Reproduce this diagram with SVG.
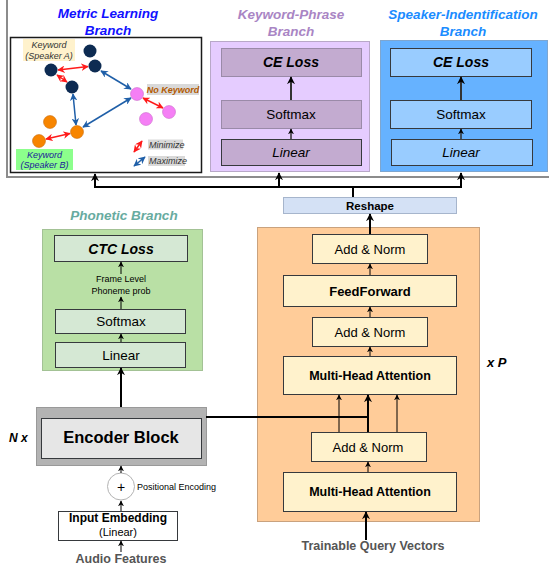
<svg xmlns="http://www.w3.org/2000/svg" width="549" height="572" viewBox="0 0 549 572">
<defs>
<marker id="ah" viewBox="0 0 10 10" refX="9" refY="5" markerWidth="4" markerHeight="4" orient="auto-start-reverse" markerUnits="strokeWidth"><path d="M0,0 L10,5 L0,10 L3,5 z" fill="#000"/></marker>
<marker id="ahs" viewBox="0 0 10 10" refX="9" refY="5" markerWidth="6" markerHeight="6" orient="auto-start-reverse" markerUnits="strokeWidth"><path d="M0,0 L10,5 L0,10 L3,5 z" fill="#000"/></marker>
<marker id="ar" viewBox="0 0 10 10" refX="9" refY="5" markerWidth="5" markerHeight="5" orient="auto-start-reverse" markerUnits="strokeWidth"><path d="M0,0 L10,5 L0,10 L3,5 z" fill="#ff1a1a"/></marker>
<marker id="ab" viewBox="0 0 10 10" refX="9" refY="5" markerWidth="5" markerHeight="5" orient="auto-start-reverse" markerUnits="strokeWidth"><path d="M0,0 L10,5 L0,10 L3,5 z" fill="#1f5fa8"/></marker>
</defs>
<style>
text{font-family:"Liberation Sans",Arial,Helvetica,sans-serif;}
.c{text-anchor:middle;}
.b{font-weight:bold;}
.i{font-style:italic;}
.title{font-weight:bold;font-style:italic;font-size:13.5px;text-anchor:middle;}
.inner{stroke:#36393d;stroke-width:1;}
.conn{stroke:#000;stroke-width:2;fill:none;}
.thin{stroke:#000;stroke-width:1;fill:none;}
.red{stroke:#ff1a1a;stroke-width:1.5;fill:none;}
.blue{stroke:#1f5fa8;stroke-width:1.5;fill:none;}
.lbl{font-size:9px;font-style:italic;text-anchor:middle;}
</style>
<rect width="549" height="572" fill="#fff"/>

<!-- outer frame -->
<path d="M7,0 L7,177 L549,177" fill="none" stroke="#8c8c8c" stroke-width="2"/>

<!-- Metric learning branch -->
<g id="metric-branch">
<text class="title" x="108" y="18" fill="#1010ff">Metric Learning</text>
<text class="title" x="108" y="35" fill="#1010ff">Branch</text>
<rect x="10.5" y="37.5" width="191" height="135" fill="#fff" stroke="#1a1a1a" stroke-width="1.5"/>
<rect x="23" y="39" width="52" height="22" fill="#fff2cc"/>
<text class="lbl" x="49" y="48" fill="#333">Keyword</text>
<text class="lbl" x="49" y="59" fill="#333">(Speaker A)</text>
<rect x="147" y="84" width="52" height="11" fill="#d9d9d9"/>
<text class="lbl b" x="173" y="93" fill="#b35900">No Keyword</text>
<rect x="16" y="149" width="57" height="21" fill="#8cff8c"/>
<text class="lbl" x="44.5" y="158" fill="#1a1a99">Keyword</text>
<text class="lbl" x="44.5" y="168" fill="#1a1a99">(Speaker B)</text>
<g id="metric-arrows">
<line class="red" x1="58" y1="70" x2="88" y2="66.5" marker-start="url(#ar)" marker-end="url(#ar)"/>
<line class="red" x1="57" y1="75" x2="67" y2="82" marker-start="url(#ar)" marker-end="url(#ar)"/>
<line class="red" x1="46" y1="139" x2="70" y2="133.5" marker-start="url(#ar)" marker-end="url(#ar)"/>
<line class="red" x1="143" y1="98" x2="163" y2="108" marker-start="url(#ar)" marker-end="url(#ar)"/>
<line class="blue" x1="101" y1="71" x2="131" y2="89" marker-start="url(#ab)" marker-end="url(#ab)"/>
<line class="blue" x1="73" y1="94" x2="76" y2="125" marker-start="url(#ab)" marker-end="url(#ab)"/>
<line class="blue" x1="83" y1="127" x2="131" y2="98" marker-start="url(#ab)" marker-end="url(#ab)"/>
</g>
<g fill="#0d2b52">
<circle cx="90" cy="51" r="6.5"/>
<circle cx="95" cy="66" r="6.5"/>
<circle cx="51" cy="70" r="6.5"/>
<circle cx="72" cy="87" r="6.5"/>
</g>
<g fill="#f57ff5" stroke="#c060c0" stroke-width="0.5">
<circle cx="137" cy="94" r="6.5"/>
<circle cx="169" cy="112" r="6.5"/>
<circle cx="146" cy="119" r="6.5"/>
</g>
<g fill="#f78500" stroke="#c06000" stroke-width="0.5">
<circle cx="50" cy="122" r="6.5"/>
<circle cx="77" cy="132" r="6.5"/>
<circle cx="39" cy="141" r="6.5"/>
</g>
<line class="red" x1="134" y1="152" x2="142" y2="141" marker-start="url(#ar)" marker-end="url(#ar)"/>
<line class="blue" x1="134" y1="166" x2="145" y2="157" marker-start="url(#ab)" marker-end="url(#ab)"/>
<rect x="148" y="139.5" width="35" height="10" fill="#d9d9d9"/>
<text x="149" y="147.5" font-size="9" font-style="italic" fill="#333">Minimize</text>
<rect x="148" y="156" width="37" height="10" fill="#d9d9d9"/>
<text x="149" y="164" font-size="9" font-style="italic" fill="#333">Maximize</text>
</g>

<!-- Keyword-phrase branch -->
<g id="keyword-branch">
<text class="title" x="291" y="19" fill="#a985c4">Keyword-Phrase</text>
<text class="title" x="291" y="36" fill="#a985c4">Branch</text>
<rect x="210.5" y="41.5" width="159" height="130" fill="#e5ccff" stroke="#b8a8c8"/>
<rect x="221.5" y="48.5" width="140" height="28" fill="#c3abd0" stroke="#9a8aa8"/>
<text class="c b i" x="291" y="67" font-size="14">CE Loss</text>
<rect x="221.5" y="100.5" width="140" height="28" fill="#c3abd0" stroke="#9a8aa8"/>
<text class="c" x="291" y="119" font-size="13.5">Softmax</text>
<rect x="221.5" y="139.5" width="140" height="26" fill="#c3abd0" class="inner"/>
<text class="c i" x="291" y="157" font-size="13.5">Linear</text>
</g>

<!-- Speaker branch -->
<g id="speaker-branch">
<text class="title" x="463" y="19" fill="#1a8cff">Speaker-Indentification</text>
<text class="title" x="463" y="36" fill="#1a8cff">Branch</text>
<rect x="380.5" y="40.5" width="167" height="131" fill="#66b2ff" stroke="#7ea6d0"/>
<rect x="390.5" y="48.5" width="141" height="28" fill="#99ccff" class="inner"/>
<text class="c b i" x="461" y="67" font-size="14">CE Loss</text>
<rect x="390.5" y="100.5" width="141" height="28" fill="#99ccff" class="inner"/>
<text class="c" x="461" y="119" font-size="13.5">Softmax</text>
<rect x="391.5" y="139.5" width="141" height="26" fill="#99ccff" class="inner"/>
<text class="c i" x="461" y="157" font-size="13.5">Linear</text>
</g>

<!-- Reshape -->
<g id="reshape">
<rect x="283.5" y="197.5" width="173" height="16" fill="#d4e1f5" stroke="#a6b5cc"/>
<text class="c b" x="370" y="209.5" font-size="11.5">Reshape</text>
</g>

<!-- Phonetic branch -->
<g id="phonetic-branch">
<text class="title" x="124" y="220" fill="#67ab9f">Phonetic Branch</text>
<rect x="42.5" y="229.5" width="160" height="141" fill="#b9e0a5" stroke="#a3c295"/>
<rect x="54.5" y="235.5" width="133" height="26" fill="#d5e8d4" class="inner"/>
<text class="c b i" x="121" y="253.5" font-size="14">CTC Loss</text>
<text class="c" x="121" y="282" font-size="9">Frame Level</text>
<text class="c" x="121" y="294" font-size="9">Phoneme prob</text>
<rect x="55.5" y="309.5" width="130" height="24" fill="#d5e8d4" class="inner"/>
<text class="c" x="121" y="326" font-size="13.5">Softmax</text>
<rect x="55.5" y="342.5" width="130" height="25" fill="#d5e8d4" class="inner"/>
<text class="c" x="121" y="359.5" font-size="13.5">Linear</text>
</g>

<!-- Transformer decoder -->
<g id="decoder">
<rect x="257.5" y="227.5" width="222" height="294" fill="#ffcc99" stroke="#c9a27e"/>
<text x="487" y="367" font-size="13" font-weight="bold" font-style="italic">x P</text>
</g>
<g id="addnorm-top">
<rect x="312.5" y="234.5" width="115" height="29" fill="#fff2cc" class="inner"/>
<text class="c" x="370" y="253.5" font-size="13">Add &amp; Norm</text>
</g>
<g id="feedforward">
<rect x="283.5" y="275.5" width="173" height="31" fill="#fff2cc" class="inner"/>
<text class="c b" x="370" y="295.5" font-size="13">FeedForward</text>
</g>
<g id="addnorm-mid">
<rect x="312.5" y="317.5" width="115" height="29" fill="#fff2cc" class="inner"/>
<text class="c" x="370" y="336.5" font-size="13">Add &amp; Norm</text>
</g>
<g id="mha-top">
<rect x="283.5" y="356.5" width="173" height="38" fill="#fff2cc" class="inner"/>
<text class="c b" x="370" y="379.5" font-size="12.5">Multi-Head Attention</text>
</g>
<g id="addnorm-bottom">
<rect x="311.5" y="432.5" width="115" height="29" fill="#fff2cc" class="inner"/>
<text class="c" x="368" y="451.5" font-size="13">Add &amp; Norm</text>
</g>
<g id="mha-bottom">
<rect x="283.5" y="472.5" width="173" height="39" fill="#fff2cc" class="inner"/>
<text class="c b" x="370" y="496" font-size="12.5">Multi-Head Attention</text>
</g>

<!-- Encoder -->
<g id="encoder">
<text x="9" y="442" font-size="12" font-weight="bold" font-style="italic">N x</text>
<rect x="36.5" y="407.5" width="170" height="58" fill="#b3b3b3" stroke="#999"/>
<rect x="41.5" y="418.5" width="160" height="40" fill="#e6e6e6" class="inner"/>
<text class="c b" x="121" y="443" font-size="16.5">Encoder Block</text>
</g>
<g id="positional">
<circle cx="121" cy="486.5" r="13.5" fill="#fff" stroke="#b3b3b3"/>
<text class="c" x="121" y="491.5" font-size="14">+</text>
<text x="137" y="490" font-size="9">Positional Encoding</text>
</g>
<g id="input-embedding">
<rect x="58.5" y="511.5" width="119" height="29" fill="#fff" class="inner"/>
<text class="c b" x="118" y="522" font-size="12">Input Embedding</text>
<text class="c" x="118" y="536" font-size="11">(Linear)</text>
</g>
<text id="audio" class="c b" x="121" y="563" font-size="12.5" fill="#555">Audio Features</text>
<text id="queries" class="c b" x="373" y="549.5" font-size="12.5" fill="#555">Trainable Query Vectors</text>

<!-- connectors -->
<g id="connectors">
<path class="conn" d="M95,187 L461,187"/>
<line class="conn" x1="95" y1="188" x2="95" y2="174" marker-end="url(#ah)"/>
<line class="conn" x1="279" y1="188" x2="279" y2="173" marker-end="url(#ah)"/>
<line class="conn" x1="461" y1="188" x2="461" y2="173" marker-end="url(#ah)"/>
<line class="conn" x1="353" y1="186" x2="353" y2="197"/>
<line x1="291" y1="100" x2="291" y2="77" stroke="#333" stroke-width="2" marker-end="url(#ah)"/>
<line x1="291" y1="139" x2="291" y2="129" stroke="#333" stroke-width="1.5" marker-end="url(#ah)"/>
<line x1="461" y1="100" x2="461" y2="77" stroke="#333" stroke-width="2" marker-end="url(#ah)"/>
<line x1="461" y1="139" x2="461" y2="129" stroke="#333" stroke-width="1.5" marker-end="url(#ah)"/>
<line class="conn" x1="370" y1="234" x2="370" y2="214" marker-end="url(#ah)"/>
<line class="thin" x1="370" y1="275" x2="370" y2="264" marker-end="url(#ahs)"/>
<line class="thin" x1="370" y1="317" x2="370" y2="307" marker-end="url(#ahs)"/>
<line class="thin" x1="370" y1="356" x2="370" y2="347" marker-end="url(#ahs)"/>
<line class="thin" x1="339" y1="432" x2="339" y2="395" marker-end="url(#ahs)"/>
<line class="conn" x1="368" y1="432" x2="368" y2="395" marker-end="url(#ah)"/>
<line class="thin" x1="397" y1="432" x2="397" y2="395" marker-end="url(#ahs)"/>
<path class="conn" d="M206,417 L368,417"/>
<line class="thin" x1="368" y1="472" x2="368" y2="462" marker-end="url(#ahs)"/>
<line class="conn" x1="366" y1="540" x2="366" y2="512" marker-end="url(#ah)"/>
<line class="thin" x1="121" y1="274" x2="121" y2="262" marker-end="url(#ahs)"/>
<line class="thin" x1="121" y1="309" x2="121" y2="297" marker-end="url(#ahs)"/>
<line class="thin" x1="121" y1="342" x2="121" y2="334" marker-end="url(#ahs)"/>
<line class="conn" x1="121" y1="407" x2="121" y2="368" marker-end="url(#ah)"/>
<line class="thin" x1="121" y1="473" x2="121" y2="466" marker-end="url(#ahs)"/>
<line class="thin" x1="121" y1="511" x2="121" y2="501" marker-end="url(#ahs)"/>
<line class="thin" x1="121" y1="552" x2="121" y2="541" marker-end="url(#ahs)"/>
</g>
</svg>
